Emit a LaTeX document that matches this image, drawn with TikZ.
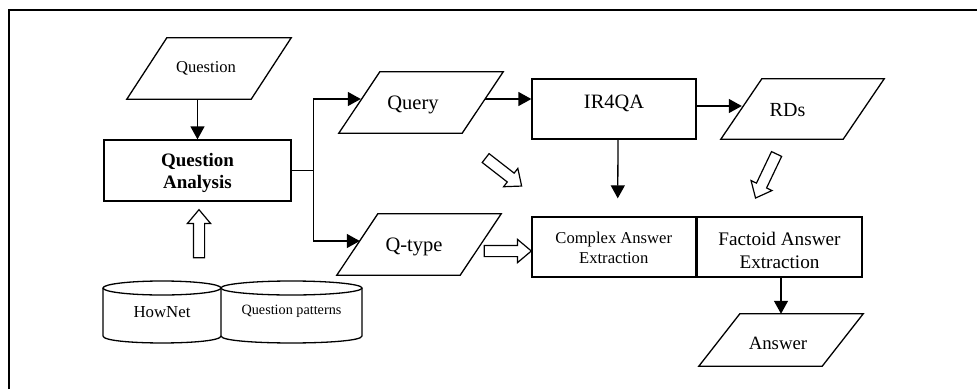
\documentclass[tikz,border=0pt]{standalone}
\usepackage{fontspec}
\setmainfont{Liberation Serif}
\usetikzlibrary{arrows.meta,calc,shapes.arrows}
\newcommand\paraline[2]{\draw[ln] ([xshift=#2]#1.north west) -- (#1.north east) -- ([xshift=-#2]#1.south east) -- (#1.south west) -- cycle;}
\begin{document}
\begin{tikzpicture}[x=1pt,y=-1pt,
  every node/.style={inner sep=0pt},
  every label/.style={align=center,inner sep=0pt},
  ln/.style={line width=1.3pt},
  arr/.style={ln,-{Triangle[length=13pt,width=14pt]}},
  box/.style={draw,ln,minimum width=#1,minimum height=60pt,align=center},
  pbox/.style={minimum width=164pt,minimum height=61pt,align=center},
  harrow/.style={single arrow,draw,line width=1.2pt,sloped,allow upside down,
    inner sep=0pt,text height=0pt,text depth=0pt,inner ysep=5pt,minimum width=22pt,
    single arrow head extend=6pt,single arrow tip angle=80,single arrow head indent=0pt}]
\useasboundingbox (0,0) rectangle (977,389);
% frame
\draw[line width=1.6pt] (9,389) -- (9,10) -- (977,10);

% nodes
\node[pbox,label={[xshift=-3pt,font=\fontsize{16.6}{19}\selectfont]center:Question}] (question) at (209,68.5) {};
\paraline{question}{40pt}
\node[box=187pt,minimum height=61pt,label={[yshift=-2.5pt,font=\fontsize{19}{22}\selectfont\bfseries]center:Question\\Analysis}] (qa) at (197.5,170.5) {};
\node[pbox,label={[xshift=-8pt,yshift=-2.5pt,font=\fontsize{20.5}{24}\selectfont]center:Query}] (query) at (421,102.5) {};
\paraline{query}{41pt}
\node[pbox,label={[xshift=-5pt,yshift=-2.5pt,font=\fontsize{20.5}{24}\selectfont]center:Q-type}] (qtype) at (419,244.5) {};
\paraline{qtype}{41pt}
\node[box=164pt,label={[yshift=6pt,font=\fontsize{20.4}{24}\selectfont]center:IR4QA}] (ir) at (614,109) {};
\node[pbox,minimum width=163pt,minimum height=60pt,label={[xshift=-15pt,yshift=-1pt,font=\fontsize{20}{24}\selectfont]center:RDs}] (rds) at (802.5,109) {};
\paraline{rds}{41pt}
\node[box=163.5pt,label={[yshift=-1pt,font=\fontsize{16.6}{20}\selectfont]center:Complex Answer\\Extraction}] (complex) at (613.75,247) {};
\node[box=165pt,label={[yshift=-3pt,font=\fontsize{19.2}{23}\selectfont]center:Factoid Answer\\Extraction}] (factoid) at (779.5,247) {};
\node[pbox,minimum height=52pt,label={[xshift=-3pt,yshift=-3pt,font=\fontsize{18.8}{22}\selectfont]center:Answer}] (answer) at (781,340) {};
\paraline{answer}{41pt}

% cylinders
\node[font=\fontsize{16.8}{20}\selectfont] (hownet) at (162,312) {HowNet};
\node[font=\fontsize{14.2}{17}\selectfont] (qpat) at (291.5,311) {Question patterns};
\draw[ln] (162,288) ellipse[x radius=59,y radius=7];
\draw[ln] (103,288) -- (103,336) .. controls (103,345.3) and (221,345.3) .. (221,336) -- (221,288);
\draw[ln] (291.5,288) ellipse[x radius=70.5,y radius=7];
\draw[ln] (221,336) .. controls (221,345.3) and (362,345.3) .. (362,336) -- (362,288);

% connectors
\draw[arr] (question.south -| qa.north) -- (qa.north);
\draw[ln] (qa.east) -- ++(22,0) coordinate (fork);
\draw[arr] (fork) |- ($(query.west)+(22,-3.5)$);
\draw[arr] (fork) |- ($(qtype.west)+(23,-3.5)$);
\draw[arr] ($(query.east)+(-18,-3.5)$) -- ($(ir.west)+(0,-10)$);
\draw[arr] ($(ir.east)+(0,-3)$) -- ($(rds.west)+(21,-3)$);
\draw[arr] ($(ir.south)+(4,0)$) -- ($(complex.north)+(4,-18)$);
\draw[arr] (factoid.south -| answer.north) -- (answer.north);

% hollow arrows
\coordinate (h1a) at (199,261); \coordinate (h1b) at (199,213);
\path (h1a) -- node[harrow,minimum height=48pt]{} (h1b);
\coordinate (h2a) at (481,251); \coordinate (h2b) at (528,251);
\path (h2a) -- node[harrow,minimum height=47pt]{} (h2b);
\coordinate (h3a) at (483,156); \coordinate (h3b) at (519,184);
\path (h3a) -- node[harrow,minimum height=45.6pt]{} (h3b);
\coordinate (h4a) at (778,151); \coordinate (h4b) at (757,195);
\path (h4a) -- node[harrow,minimum height=48.8pt]{} (h4b);
\end{tikzpicture}
\end{document}
